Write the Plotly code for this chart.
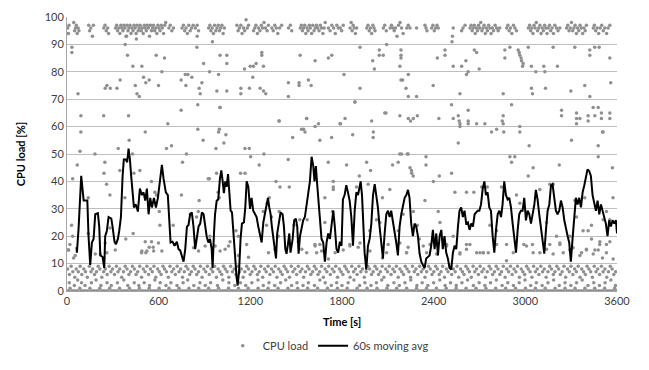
import plotly.graph_objects as go

# ---- 60 s moving average (time [s], CPU load [%]) ----
moving_avg = [
 (62,16),(65,14),(76,23),(87,38.6),(93,42),(102,37),(109,33),(124,33),(133,33),(141,20),(152,9.5),(163,17.7),
 (174,19),(185,28),(202,28.4),(211,23.5),(218,13),(233,12.4),(244,8.4),(250,20),(261,22),(272,27),(290,26.4),
 (298,23.5),(311,18),(320,17),(333,19),(342,22),(353,27),(364,42),(372,48),(386,48),(394,47),(403,52),(412,48),
 (420,42),(429,35),(438,30.5),(451,31.6),(464,29),(477,37.4),(490,35),(501,36),(512,33),(523,37.4),(534,28),
 (545,34),(556,30.5),(569,34),(582,30.5),(595,34),(610,41),(621,46),(632,41),(647,36),(660,35),(669,26),
 (678,17.7),(691,18),(704,16.5),(719,18),(730,15.3),(741,14.8),(752,13),(763,10.7),(774,15.3),(785,23.5),
 (795,24),(806,28),(817,28.7),(828,23.5),(839,15.3),(850,19),(861,23.5),(872,24.6),(883,28.7),(894,28),(904,23.5),
 (914,20),(925,17.7),(936,19),(947,15.3),(953,8.4),(962,21),(969,28),(980,33),(990,33.4),(1001,41),(1010,44),
 (1019,40),(1027,35.7),(1036,40),(1045,38),(1054,42.7),(1062,35),(1071,29.3),(1080,28.7),(1089,21),(1099,14),
 (1110,5),(1117,2),(1126,7),(1136,19),(1145,24.6),(1158,25),(1167,30.5),(1176,40),(1187,38),(1198,30),(1208,34),
 (1219,29.3),(1230,28),(1241,27),(1252,23.5),(1263,20),(1274,17.7),(1285,25),(1296,28),(1307,31.6),(1315,34),
 (1324,30.5),(1333,28),(1341,23.5),(1350,19),(1361,15.3),(1368,11.9),(1376,21),(1387,24.6),(1398,28.7),(1411,28),
 (1420,23.5),(1429,15.3),(1437,13.6),(1446,17),(1455,21),(1463,14),(1477,19),(1487,25.8),(1498,26.4),(1507,23.5),
 (1516,13.6),(1525,20),(1535,23.5),(1546,25.8),(1557,27),(1568,31.6),(1579,35),(1590,40),(1601,49),(1612,45.6),
 (1620,40),(1629,45.6),(1638,38.6),(1647,31.6),(1655,24.6),(1666,19),(1677,17.7),(1688,10.7),(1699,17.7),
 (1710,21),(1721,19),(1732,23.5),(1743,29.3),(1753,23.5),(1764,15.3),(1775,14),(1786,18),(1797,16.5),
 (1806,33.4),(1817,35),(1828,38.6),(1839,36),(1850,33),(1861,27),(1872,16.5),(1883,29.3),(1894,36),(1905,35),
 (1915,39),(1922,40),(1931,35),(1939,25.8),(1948,14),(1959,7.8),(1970,16.5),(1981,19),(1992,24.6),(2003,35),
 (2014,39),(2024,35),(2035,30.5),(2046,23.5),(2057,17.7),(2068,11.9),(2079,21),(2090,28),(2101,29.3),(2112,27),
 (2122,29.3),(2133,25.8),(2144,21),(2155,17.7),(2166,13),(2177,23.5),(2188,28),(2199,31.6),(2210,34),(2221,35),
 (2232,36.9),(2242,34),(2253,24.6),(2264,20),(2275,24.6),(2286,23.5),(2297,20),(2308,13.6),(2319,10.7),
 (2330,9.5),(2341,8.4),(2351,11.9),(2362,12.4),(2373,13),(2384,16.5),(2395,22.3),(2406,15.3),(2417,21),
 (2428,13),(2439,20),(2450,22.3),(2460,15.3),(2471,20),(2482,14),(2493,11.9),(2504,8.4),(2515,7.8),(2526,14),
 (2537,16.5),(2548,15.3),(2559,23.5),(2569,29.3),(2580,30.5),(2591,27),(2602,29.3),(2613,24.6),(2624,25),
 (2635,22.3),(2646,24.6),(2657,23.5),(2668,28),(2688,29.3),(2699,29.3),(2710,31.6),(2721,37.4),(2732,40),
 (2742,35),(2753,36),(2764,30.5),(2775,29.3),(2786,20),(2797,14),(2808,22.3),(2819,28),(2830,29.3),(2841,27),
 (2851,31.6),(2862,40),(2873,35),(2884,33.4),(2895,34),(2906,30.5),(2917,24.6),(2928,20),(2939,14),(2950,22.3),
 (2960,28),(2971,29.3),(2982,29.3),(2993,34),(3004,25.8),(3015,29.3),(3026,28),(3037,24.6),(3048,28),(3059,31.6),
 (3069,36.9),(3080,33.4),(3091,28),(3102,23.5),(3113,20),(3124,13.6),(3135,22.3),(3146,29.3),(3157,31.6),
 (3168,38.6),(3178,39),(3189,35),(3200,29.3),(3211,28),(3222,29.3),(3233,33),(3244,30.5),(3255,25.8),(3266,22.3),
 (3277,20),(3287,17.7),(3298,10.7),(3309,19),(3320,28),(3331,34),(3342,31.6),(3353,34),(3364,30.5),(3375,36),
 (3386,38.6),(3396,41),(3407,44.4),(3418,43.8),(3429,42),(3440,35),(3451,31.6),(3462,29.3),(3473,33),(3484,28),
 (3495,31.6),(3505,29.3),(3516,27),(3527,24.6),(3538,20),(3549,25.8),(3560,23.5),(3571,25.8),(3582,24.6),
 (3593,25.8),(3600,21),
]

# ---- CPU load samples (time [s], load [%]), grouped by band ----
idle_samples = [
 (2,0),(20,1),(41,0),(63,0),(84,1),(106,0),(127,0),(150,1),(171,0),(193,0),(214,1),(236,0),(258,0),(279,1),
 (301,0),(322,0),(344,1),(366,0),(387,0),(409,1),(430,0),(452,0),(474,1),(495,0),(517,0),(538,1),(560,0),
 (582,0),(603,1),(625,0),(646,0),(668,1),(690,0),(711,0),(733,1),(754,0),(776,0),(798,1),(819,0),(841,0),
 (862,1),(884,0),(906,0),(927,1),(949,0),(970,0),(992,1),(1014,0),(1035,0),(1057,1),(1078,0),(1100,0),
 (1122,1),(1143,0),(1165,0),(1186,1),(1208,0),(1230,0),(1251,1),(1273,0),(1294,0),(1316,1),(1338,0),(1359,0),
 (1381,1),(1402,0),(1424,0),(1446,1),(1467,0),(1489,0),(1510,1),(1532,0),(1554,0),(1575,1),(1597,0),(1618,0),
 (1640,1),(1662,0),(1683,0),(1705,1),(1726,0),(1748,0),(1770,1),(1791,0),(1813,0),(1834,1),(1856,0),(1878,0),
 (1899,1),(1921,0),(1942,0),(1964,1),(1986,0),(2007,0),(2029,1),(2050,0),(2072,0),(2094,1),(2115,0),(2137,0),
 (2158,1),(2180,0),(2202,0),(2223,1),(2245,0),(2266,0),(2288,1),(2310,0),(2331,0),(2353,1),(2374,0),(2396,0),
 (2418,1),(2439,0),(2461,0),(2482,1),(2504,0),(2526,0),(2547,1),(2569,0),(2590,0),(2612,1),(2634,0),(2655,0),
 (2677,1),(2698,0),(2720,0),(2742,1),(2763,0),(2785,0),(2806,1),(2828,0),(2850,0),(2871,1),(2893,0),(2914,0),
 (2936,1),(2958,0),(2979,0),(3001,1),(3022,0),(3044,0),(3066,1),(3087,0),(3109,0),(3130,1),(3152,0),(3174,0),
 (3195,1),(3217,0),(3238,0),(3260,1),(3282,0),(3303,0),(3325,1),(3346,0),(3368,0),(3390,1),(3411,0),(3433,0),
 (3454,1),(3476,0),(3498,0),(3519,1),(3541,0),(3562,0),(3584,1),(3598,0),
 (10,0),(31,0),(52,0),(73,0),(95,0),(116,0),(138,0),(160,0),(181,0),(203,0),(225,0),(246,0),(268,0),(290,0),
 (311,0),(333,0),(355,0),(376,0),(398,0),(420,0),(441,0),(463,0),(485,0),(506,0),(528,0),(549,0),(571,0),
 (593,0),(614,0),(636,0),(657,0),(679,0),(700,0),(722,0),(744,0),(765,0),(787,0),(808,0),(830,0),(852,0),
 (873,0),(895,0),(917,0),(938,0),(960,0),(981,0),(1003,0),(1025,0),(1046,0),(1068,0),(1089,0),(1111,0),
 (1133,0),(1154,0),(1176,0),(1197,0),(1219,0),(1241,0),(1262,0),(1284,0),(1305,0),(1327,0),(1349,0),(1370,0),
 (1392,0),(1413,0),(1435,0),(1457,0),(1478,0),(1500,0),(1521,0),(1543,0),(1565,0),(1586,0),(1608,0),(1629,0),
 (1651,0),(1673,0),(1694,0),(1716,0),(1737,0),(1759,0),(1781,0),(1802,0),(1824,0),(1845,0),(1867,0),(1889,0),
 (1910,0),(1932,0),(1953,0),(1975,0),(1997,0),(2018,0),(2040,0),(2061,0),(2083,0),(2105,0),(2126,0),(2148,0),
 (2169,0),(2191,0),(2213,0),(2234,0),(2256,0),(2277,0),(2299,0),(2321,0),(2342,0),(2364,0),(2385,0),(2407,0),
 (2429,0),(2450,0),(2472,0),(2493,0),(2515,0),(2537,0),(2558,0),(2580,0),(2601,0),(2623,0),(2645,0),(2666,0),
 (2688,0),(2709,0),(2731,0),(2753,0),(2774,0),(2796,0),(2817,0),(2839,0),(2861,0),(2882,0),(2904,0),(2925,0),
 (2947,0),(2969,0),(2990,0),(3012,0),(3033,0),(3055,0),(3077,0),(3098,0),(3120,0),(3141,0),(3163,0),(3185,0),
 (3206,0),(3228,0),(3249,0),(3271,0),(3293,0),(3314,0),(3336,0),(3357,0),(3379,0),(3401,0),(3422,0),(3444,0),
 (3465,0),(3487,0),(3509,0),(3530,0),(3552,0),(3573,0),(3592,0),
]

light_samples = [
 (15,3),(48,2),(70,4),(95,3),(118,2),(160,3),(190,4),(222,2),(262,3),(290,2),(330,3),(372,4),(398,2),(440,3),
 (470,2),(505,3),(540,2),(575,4),(610,3),(648,2),(680,3),(720,2),(760,3),(790,4),(830,2),(870,3),(905,2),
 (940,3),(985,2),(1020,4),(1060,3),(1098,2),(1135,3),(1170,2),(1210,3),(1250,4),(1285,2),(1322,3),(1360,2),
 (1398,3),(1432,4),(1470,2),(1505,3),(1545,2),(1580,3),(1620,2),(1655,4),(1690,3),(1730,2),(1765,3),(1800,2),
 (1840,3),(1878,4),(1915,2),(1950,3),(1990,2),(2025,3),(2060,4),(2100,2),(2140,3),(2175,2),(2212,3),(2250,4),
 (2290,2),(2325,3),(2362,2),(2400,3),(2440,4),(2475,2),(2510,3),(2548,2),(2585,3),(2622,4),(2660,2),(2698,3),
 (2735,2),(2772,3),(2810,4),(2848,2),(2885,3),(2922,2),(2960,3),(2998,4),(3035,2),(3072,3),(3110,2),(3148,3),
 (3185,4),(3222,2),(3260,3),(3298,2),(3335,3),(3372,4),(3410,2),(3448,3),(3485,2),(3522,3),(3560,4),(3590,2),
]

low_samples = [
 (4,8),(16,6),(27,9),(38,7),(51,5),(60,8),(74,7),(86,9),(97,6),(110,8),(121,7),(133,5),(146,9),(157,7),(168,8),
 (180,6),(193,7),(204,9),(215,8),(228,5),(240,7),(251,8),(263,6),(276,9),(287,7),(298,8),(311,6),(323,9),
 (334,7),(345,8),(358,5),(370,7),(381,9),(393,8),(405,6),(416,7),(428,9),(441,8),(452,6),(463,7),(476,9),
 (488,5),(499,8),(511,7),(523,9),(534,6),(546,8),(558,7),(569,9),(581,5),(593,8),(604,7),(616,6),(628,9),
 (639,8),(651,7),(663,5),(674,9),(686,7),(698,8),(709,6),(721,9),(733,7),(744,8),(756,5),(768,7),(779,9),
 (791,8),(803,6),(814,7),(826,9),(838,8),(849,6),(861,7),(873,9),(884,5),(896,8),(908,7),(919,9),(931,6),
 (943,8),(954,7),(966,9),(978,5),(989,8),(1001,7),(1013,6),(1024,9),(1036,8),(1048,7),(1059,5),(1071,9),
 (1083,7),(1094,8),(1106,6),(1118,9),(1129,7),(1141,8),(1153,5),(1164,7),(1176,9),(1188,8),(1199,6),(1211,7),
 (1223,9),(1234,8),(1246,6),(1258,7),(1269,9),(1281,5),(1293,8),(1304,7),(1316,9),(1328,6),(1339,8),(1351,7),
 (1363,9),(1374,5),(1386,8),(1398,7),(1409,6),(1421,9),(1433,8),(1444,7),(1456,5),(1468,9),(1479,7),(1491,8),
 (1503,6),(1514,9),(1526,7),(1538,8),(1549,5),(1561,7),(1573,9),(1584,8),(1596,6),(1608,7),(1619,9),(1631,8),
 (1643,6),(1654,7),(1666,9),(1678,5),(1689,8),(1701,7),(1713,9),(1724,6),(1736,8),(1748,7),(1759,9),(1771,5),
 (1783,8),(1794,7),(1806,6),(1818,9),(1829,8),(1841,7),(1853,5),(1864,9),(1876,7),(1888,8),(1899,6),(1911,9),
 (1923,7),(1934,8),(1946,5),(1958,7),(1969,9),(1981,8),(1993,6),(2004,7),(2016,9),(2028,8),(2039,6),(2051,7),
 (2063,9),(2074,5),(2086,8),(2098,7),(2109,9),(2121,6),(2133,8),(2144,7),(2156,9),(2168,5),(2179,8),(2191,7),
 (2203,6),(2214,9),(2226,8),(2238,7),(2249,5),(2261,9),(2273,7),(2284,8),(2296,6),(2308,9),(2319,7),(2331,8),
 (2343,5),(2354,7),(2366,9),(2378,8),(2389,6),(2401,7),(2413,9),(2424,8),(2436,6),(2448,7),(2459,9),(2471,5),
 (2483,8),(2494,7),(2506,9),(2518,6),(2529,8),(2541,7),(2553,9),(2564,5),(2576,8),(2588,7),(2599,6),(2611,9),
 (2623,8),(2634,7),(2646,5),(2658,9),(2669,7),(2681,8),(2693,6),(2704,9),(2716,7),(2728,8),(2739,5),(2751,7),
 (2763,9),(2774,8),(2786,6),(2798,7),(2809,9),(2821,8),(2833,6),(2844,7),(2856,9),(2868,5),(2879,8),(2891,7),
 (2903,9),(2914,6),(2926,8),(2938,7),(2949,9),(2961,5),(2973,8),(2984,7),(2996,6),(3008,9),(3019,8),(3031,7),
 (3043,5),(3054,9),(3066,7),(3078,8),(3089,6),(3101,9),(3113,7),(3124,8),(3136,5),(3148,7),(3159,9),(3171,8),
 (3183,6),(3194,7),(3206,9),(3218,8),(3229,6),(3241,7),(3253,9),(3264,5),(3276,8),(3288,7),(3299,9),(3311,6),
 (3323,8),(3334,7),(3346,9),(3358,5),(3369,8),(3381,7),(3393,6),(3404,9),(3416,8),(3428,7),(3439,5),(3451,9),
 (3463,7),(3474,8),(3486,6),(3498,9),(3509,7),(3521,8),(3533,5),(3544,7),(3556,9),(3568,8),(3579,6),(3591,7),
]

mid_samples = [
 (11,15),(54,13),(43,12),(250,17.5),(261,14),(185,13.5),(218,13.5),(316,15),(512,18),(538,16),(490,14.6),
 (523,14.6),(567,14.6),(599,17.5),(621,14.6),(828,15.8),(861,14.6),(904,16.4),(970,16.4),(1002,14.6),
 (1035,15.2),(1057,16.4),(1122,13),(1188,12.3),(1319,14),(1362,15.2),(1537,15.2),(1569,14),(1624,16.4),
 (1667,14.6),(1711,11.7),(1755,14),(1852,16.4),(1918,17.5),(1983,14.6),(2092,14),(2179,17.5),(2223,14),
 (2332,16.4),(2419,13.5),(2485,16.4),(2572,13.5),(2615,15.2),(2681,14),(2724,14),(2812,17),(2877,11),
 (3008,16.4),(3051,14),(3139,15.2),(3182,13.5),(3226,17.5),(3313,15.8),(3357,13),(3400,15.2),(3444,13.5),
 (3487,17),(3531,14),(3575,11.7),
 (85,51),(67,46),(37,41),(30,24),(37,20),(8,15),(19,17),(139,34),(139,21),(183,50),(248,47),(242,43),(259,39),
 (281,35),(281,23),(335,52),(346,44),(379,34),(385,19),(407,55),(429,50),(438,43),(433,21),(477,44),(488,14),
 (516,14),(553,40),(553,18),(564,16),(575,36),(586,35),(604,29),(608,24),(651,52),(684,53),(695,24),(749,35),
 (756,47),(782,50),(808,28),(865,33),(859,29),(848,27),(891,55),(924,41),(935,20),(979,43),(989,36),(996,34),
 (1027,54),(975,52),(932,41),(1165,52),(1193,52),(1202,49),(1289,50),(1258,46),(1136,43),(1165,43),(1477,56),
 (1655,55),(1732,56),(1830,46),(1710,47),(1961,47),(1987,44),(1913,42),(2004,56),(2131,46),(2168,47),(2178,50),
 (2233,50),(2255,44),(2266,42),(1448,48),(1368,40),(1394,38),(1455,38),(1743,40),(1743,38),(1743,37),(1688,34),
 (1895,38),(1971,39),(2065,34),(2113,37),(1106,22),(1121,20),(1067,18),(1176,17),(1306,24),(1324,34),(1311,32),
 (1285,29),(1339,27),(1383,20),(1389,29),(1485,24),(1514,18),(1623,17),(1655,17),(1634,14),(1572,26),(1524,26),
 (1688,25),(1738,29),(1808,15),(1851,17),(1873,24),(1906,16),(1982,22),(2026,26),(2048,25),(2102,17),(2065,12),
 (2222,14),(2233,16),(2200,28),(2168,22),
 (2245,45),(2256,43),(2227,50),(2190,50),(2350,49),(2350,46),(2398,40),(2437,42),(2517,43),(2561,54),(2539,36),
 (2615,36),(2663,36),(2714,38),(2751,38),(2899,49),(2931,49),(2910,47),(3025,53),(3051,45),(3019,42),(3160,39),
 (3182,39),(3222,46),(3302,55),(3477,53),(3477,49),(3505,58),(3570,45),(3574,34),(3389,34),(3324,33),(3335,27),
 (3378,22),(3411,22),(3433,24),(3531,29),(3553,26),(3509,26),(2343,33),(2430,29),(2441,25),(2768,24),(2812,22),
 (2844,38),(2942,35),(2964,32),(3095,37),(3139,25),(3226,17),(3248,14),(3047,17),(3160,17),(3204,20),(3291,20),
 (3291,15),(2267,29),(2293,24),(2306,19),(2354,14),(2376,17),(2398,18),(2485,17),(2528,20),(2572,14),(2615,17),
 (2637,17),(2703,14),(2725,14),(2757,14),(2877,17),(2921,14),(2990,17),(3095,14),(3368,14),(3400,15),(3455,15),
 (3477,15),(3488,18),(3531,17),(3553,18),(3505,12),(3433,19),
]

high_samples = [
 (32,89),(32,87),(381,90),(850,89),(952,91),(396,86),(584,86),(638,85),(1002,86),(1046,86),(1275,87),(1275,86),
 (1526,86),(1624,84),(1711,85),(1733,86),(431,82),(490,82),(894,83),(1046,83),(1162,81),(1199,82),(1220,82),
 (1238,83),(1286,82),(621,80),(774,79),(791,79),(933,80),(992,79),(1216,78),(501,78),(538,77),(516,76),(348,77),
 (747,77),(817,78),(883,76),(261,75),(250,74),(283,74),(327,74),(447,75),(599,75),(778,75),(865,74),(872,72),
 (458,72),(473,71),(72,72),(981,73),(1046,73),(1138,74),(1138,72),(1194,74),(1264,74),(1286,73),(1301,72),
 (1449,76),(1449,71),(1519,76),(1519,75),(1580,77),(1598,75),(856,68),(1002,67),(747,66),(91,64),(240,64),
 (403,64),(1388,62),(1569,63),(1646,61),(1624,60),(1790,61),(660,61),(91,58),(512,58),(856,59),(992,58),
 (1040,57),(1548,59),(1558,58),(1001,67),(997,59),(1389,62),(1535,59),(1568,63),(1884,69),(2080,65),
 (1918,89),(2092,90),(2044,88),(2044,86),(2070,86),(2186,88),(2186,86),(2186,85),(2001,84),(2012,81),(2474,88),
 (2474,86),(2424,85),(2666,88),(2681,87),(2866,88),(2866,85),(2899,89),(2953,88),(2960,87),(2964,86),(2972,85),
 (2975,84),(2986,83),(3019,89),(3182,89),(3324,89),(3422,88),(3422,86),(3454,89),(3483,89),(3553,85),(2982,82),
 (3040,82),(3069,80),(3121,82),(3128,80),(3210,82),(2528,82),(2583,82),(2611,84),(2626,80),(2615,79),(2698,81),
 (2179,82),(1813,79),(2186,77),(2197,77),(2234,79),(2397,75),(1918,74),(2219,74),(2234,71),(2288,71),(2572,72),
 (2855,72),(3040,74),(3047,72),(3132,74),(3298,73),(3389,75),(3422,71),(3559,76),(1885,69),(2088,65),(2179,64),
 (2234,63),(2249,62),(2267,63),(2293,64),(1820,63),(1787,61),(1994,62),(2434,63),(2517,68),(2528,63),(2561,64),
 (2567,62),(2572,61),(2626,66),(2626,62),(2626,61),(2681,61),(2735,61),(2910,68),(2855,64),(2849,62),(2855,61),
 (2572,60),(2779,58),(2812,59),(2859,58),(2964,60),(2964,58),(3237,66),(3237,64),(3335,65),(3335,63),(3335,61),
 (3357,63),(3411,64),(3411,62),(3444,67),(3477,67),(3455,64),(3498,65),(3498,63),(3553,65),(3553,63),(3509,58),
 (1870,57),(2005,58),
]

busy_samples = [
 (5,96),(9,94),(13,97),(44,98),(50,95),(56,96),(61,97),(67,94),(73,96),(78,95),(142,97),(148,95),(156,96),
 (166,93),(173,97),(241,96),(249,97),(257,95),(266,96),(272,94),(318,96),(325,97),(331,95),(339,96),(346,94),
 (352,97),(359,96),(366,95),(372,97),(379,96),(386,93),(392,97),(399,95),(405,96),(412,97),(419,94),(425,96),
 (432,95),(439,97),(446,96),(452,94),(459,97),(466,95),(472,96),(479,97),(486,95),(492,96),(499,94),(506,97),
 (512,96),(519,95),(526,97),(533,96),(540,93),(546,97),(553,95),(560,96),(566,97),(574,95),(581,96),(588,94),
 (595,97),(602,96),(609,95),(617,97),(624,96),(632,94),(640,97),(646,98),(667,96),(676,97),(686,95),(697,96),
 (753,96),(762,97),(770,95),(779,96),(788,94),(797,97),(806,95),(815,96),(826,97),(840,96),(852,97),(861,95),
 (927,96),(935,97),(942,95),(950,96),(958,94),(966,97),(974,95),(982,96),(990,97),(998,95),(1006,96),(1014,97),
 (1022,94),(1030,96),(1112,97),(1120,95),(1128,96),(1138,97),(1146,94),(1155,96),(1163,95),(1172,99),(1180,96),
 (1188,97),(1221,95),(1229,96),(1237,97),(1246,94),(1254,96),(1263,95),(1272,97),(1280,96),(1290,98),(1299,96),
 (1310,95),(1318,97),(1341,96),(1350,95),(1360,97),(1370,96),(1380,94),(1392,96),(1405,97),(1450,96),(1462,97),
 (1471,95),(1527,96),(1534,97),(1541,95),(1548,96),(1556,97),(1563,94),(1571,96),(1578,95),(1586,97),(1593,96),
 (1601,94),(1609,97),(1617,95),(1625,96),(1633,97),(1641,96),(1650,95),(1658,97),(1666,96),(1675,94),(1683,96),
 (1690,98),(1711,96),(1722,95),(1733,97),(1745,96),(1756,94),(1766,97),(1776,96),(1788,96),(1798,95),(1808,97),
 (1853,96),(1860,98),(1866,95),(1873,97),(1880,96),(1888,94),(1896,96),(1962,96),(1970,97),(1978,95),(1986,96),
 (1994,94),(2002,97),(2010,96),(2016,95),(2071,96),(2080,97),(2090,95),(2115,96),(2124,97),(2133,96),(2142,95),
 (2150,96),(2160,93),(2170,97),(2180,98),(2190,96),(2200,94),(2224,96),(2234,97),(2245,96),(2288,96),(2343,97),
 (2350,96),(2356,95),(2387,96),(2395,97),(2404,95),(2412,96),(2422,97),(2430,96),(2528,96),(2520,91),(2523,93),
 (2583,95),(2592,96),(2605,97),(2638,96),(2645,97),(2652,95),(2659,96),(2666,97),(2672,94),(2680,96),(2687,95),
 (2694,97),(2701,96),(2708,98),(2716,95),(2723,96),(2730,97),(2738,94),(2745,96),(2752,95),(2760,97),(2768,96),
 (2776,94),(2784,96),(2792,95),(2802,97),(2812,96),(2822,95),(2832,96),(2878,96),(2886,97),(2894,95),(2903,96),
 (2912,94),(2922,97),(2932,96),(2942,95),(3020,96),(3028,97),(3035,95),(3042,96),(3050,94),(3057,97),(3064,96),
 (3072,98),(3080,95),(3088,96),(3095,97),(3103,94),(3111,96),(3118,95),(3126,97),(3134,96),(3142,94),(3150,96),
 (3158,97),(3166,95),(3175,96),(3184,94),(3193,97),(3204,96),(3214,95),(3226,96),(3270,96),(3278,97),(3286,95),
 (3294,96),(3302,98),(3310,95),(3318,96),(3326,97),(3334,94),(3342,96),(3350,95),(3358,97),(3366,96),(3375,94),
 (3384,96),(3392,95),(3400,97),(3445,96),(3452,97),(3460,95),(3470,96),(3480,94),(3490,96),(3500,97),(3510,95),
 (3520,96),(3532,94),(3542,96),(3553,97),(390,93),(454,92),(852,93),
]

x_ticks = [0, 600, 1200, 1800, 2400, 3000, 3600]
y_ticks = [0, 10, 20, 30, 40, 50, 60, 70, 80, 90, 100]

samples = idle_samples + light_samples + low_samples + mid_samples + high_samples + busy_samples
cpu_t = [p[0] for p in samples]
cpu_v = [p[1] for p in samples]
ma_t = [p[0] for p in moving_avg]
ma_v = [p[1] for p in moving_avg]

FONT = "Lato, 'Open Sans', sans-serif"

fig = go.Figure()
fig.add_trace(go.Scatter(
    x=cpu_t, y=cpu_v, mode="markers", name="CPU load",
    marker=dict(color="#8f8f8f", size=3.5, line=dict(width=0)),
))
fig.add_trace(go.Scatter(
    x=ma_t, y=ma_v, mode="lines", name="60s moving avg",
    line=dict(color="#000000", width=2),
))

fig.update_layout(
    width=649, height=370,
    margin=dict(l=67, r=32, t=10, b=73),
    paper_bgcolor="white", plot_bgcolor="white",
    font=dict(family=FONT, size=11, color="#404040"),
    showlegend=True,
    legend=dict(orientation="h", x=0.475, xanchor="center", y=-0.2, yanchor="middle",
                font=dict(size=11, color="#404040"), itemwidth=30, tracegroupgap=0),
    xaxis=dict(range=[0, 3600], tickvals=x_ticks, showgrid=False, zeroline=False,
               showline=True, linecolor="#a6a6a6", linewidth=1, ticks="", ticklen=0,
               tickfont=dict(size=11, color="#404040")),
    yaxis=dict(range=[0, 100], tickvals=y_ticks, showgrid=True, gridcolor="#bfbfbf", gridwidth=1,
               zeroline=False, showline=True, linecolor="#a6a6a6", linewidth=1, ticks="",
               tickfont=dict(size=11, color="#404040")),
    annotations=[
        dict(text="<b>Time [s]</b>", xref="paper", yref="paper", x=0.5, y=-0.11,
             xanchor="center", yanchor="middle", showarrow=False,
             font=dict(size=11, color="#000000", family=FONT)),
        dict(text="<b>CPU load [%]</b>", xref="paper", yref="paper", x=-0.085, y=0.5,
             xanchor="center", yanchor="middle", textangle=-90, showarrow=False,
             font=dict(size=11, color="#000000", family=FONT)),
    ],
)

fig.write_html("out.html")
